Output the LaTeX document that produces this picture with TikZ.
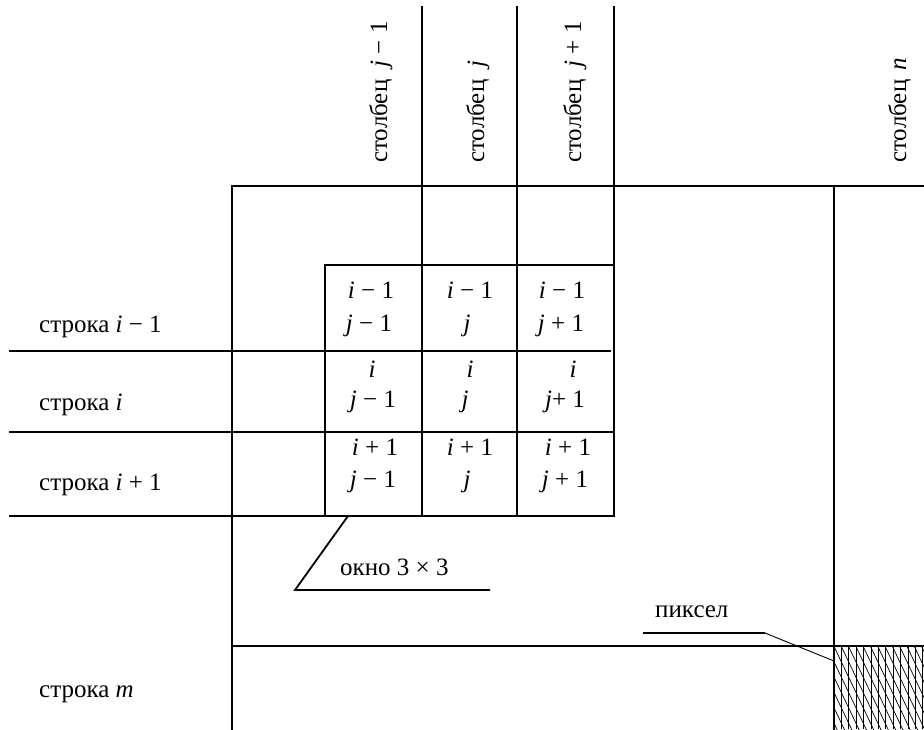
\documentclass[tikz,border=0pt]{standalone}
\usepackage{fontspec}
\setmainfont{Liberation Serif}
\begin{document}
\begin{tikzpicture}[x=1pt,y=-1pt,
  gridline/.style={line width=1.8pt, line cap=rect},
  thinline/.style={line width=0.9pt},
  hatchline/.style={line width=0.7pt},
  txt/.style={inner sep=0pt, font=\fontsize{25}{30}\selectfont},
  coltxt/.style={txt, rotate=90, anchor=base west},
  rowtxt/.style={txt, anchor=base west},
  celltxt/.style={txt, anchor=base}]
\useasboundingbox (0,0) rectangle (924,729);
% column labels
\node[coltxt] (cjm) at (387,163) {столбец\hspace{6pt} \textit{j} − 1};
\node[coltxt] (cj)  at (484,163) {столбец\hspace{6pt} \textit{j}};
\node[coltxt] (cjp) at (581,163) {столбец\hspace{6pt} \textit{j} + 1};
\node[coltxt] (cn)  at (906,163) {столбец\hspace{3pt} \textit{n}};
% row labels
\node[rowtxt] (rim) at (39,332) {строка \textit{i} − 1};
\node[rowtxt] (ri)  at (39,410) {строка \textit{i}};
\node[rowtxt] (rip) at (39,490) {строка \textit{i} + 1};
\node[rowtxt] (rm)  at (39,697) {строка \textit{m}};
% cells
\node[celltxt] (a1) at (371,298) {\textit{i} − 1};
\node[celltxt] (a2) at (369,331) {\textit{j} − 1};
\node[celltxt] (b1) at (470,298) {\textit{i} − 1};
\node[celltxt] (b2) at (467,331) {\textit{j}};
\node[celltxt] (c1) at (562,298) {\textit{i} − 1};
\node[celltxt] (c2) at (561,331) {\textit{j} + 1};
\node[celltxt] (d1) at (372,377) {\textit{i}};
\node[celltxt] (d2) at (373,407) {\textit{j} − 1};
\node[celltxt] (e1) at (470,377) {\textit{i}};
\node[celltxt] (e2) at (465,407) {\textit{j}};
\node[celltxt] (f1) at (573,377) {\textit{i}};
\node[celltxt] (f2) at (565,407) {\textit{j}+ 1};
\node[celltxt] (g1) at (375,455) {\textit{i} + 1};
\node[celltxt] (g2) at (373,487) {\textit{j} − 1};
\node[celltxt] (h1) at (470,455) {\textit{i} + 1};
\node[celltxt] (h2) at (467,487) {\textit{j}};
\node[celltxt] (k1) at (568,455) {\textit{i} + 1};
\node[celltxt] (k2) at (565,487) {\textit{j} + 1};
% labels
\node[rowtxt] (win) at (340,575) {окно 3 × 3};
\node[rowtxt] (pix) at (655,617) {пиксел};
% grid lines
\draw[gridline] (422,7) -- (422,516);
\draw[gridline] (517,7) -- (517,516);
\draw[gridline] (614,7) -- (614,516);
\draw[gridline] (232,729) -- (232,186) -- (924,186);
\draw[gridline] (834,186) -- (834,729);
\draw[gridline] (232,646) -- (924,646);
\draw[gridline] (325,516) -- (325,265) -- (613,265);
\draw[gridline] (10,351) -- (610,351);
\draw[gridline] (10,432) -- (614,432);
\draw[gridline] (10,516) -- (614,516);
% hatched pixel
\begin{scope}
  \clip (834,646) rectangle (924,729);
  \foreach \k in {1,...,13} {
    \draw[hatchline] ({834+7.4*\k},646) -- ({834+7.4*\k},729);
  }
  \foreach \k in {0,...,25} {
    \draw[hatchline] ({790+7.3*\k},646) -- ({830+7.3*\k},730);
  }
\end{scope}
% leaders
\coordinate (w0) at (348,516);
\coordinate (w1) at (295,590);
\coordinate (w2) at (490,590);
\draw[gridline, line cap=butt] (w0) -- (w1) -- (w2);
\coordinate (p0) at (643,633);
\coordinate (p1) at (765,633);
\coordinate (p2) at (834,661);
\draw[gridline, line cap=butt] (p0) -- (p1);
\draw[thinline] (p1) -- (p2);
\end{tikzpicture}
\end{document}
